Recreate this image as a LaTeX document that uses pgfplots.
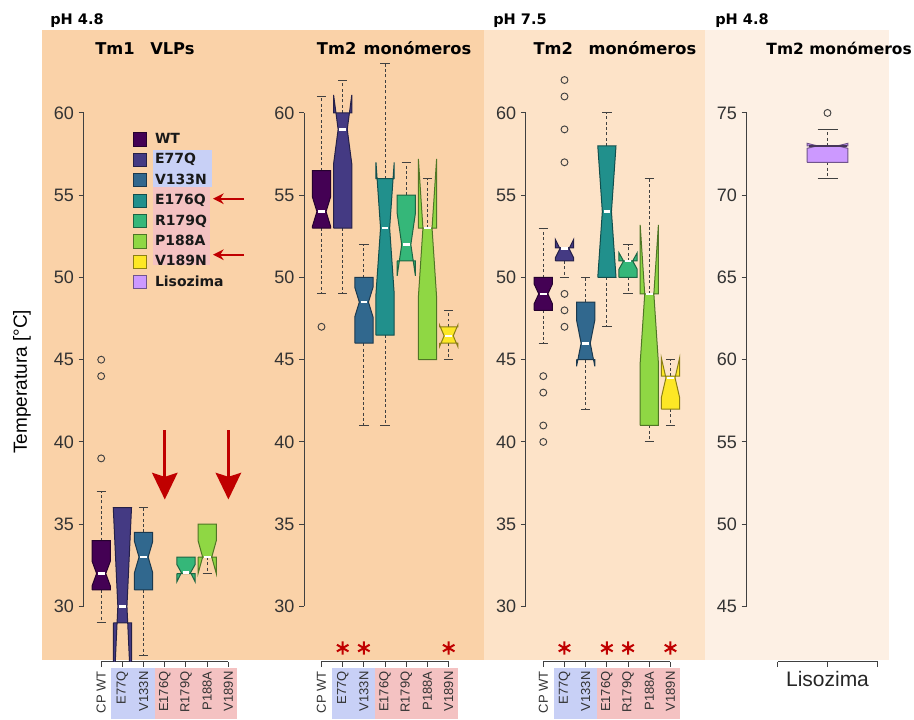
\documentclass[border=0pt]{standalone}
\usepackage{pgfplots}
\pgfplotsset{compat=1.18}
\usepackage{fontspec}
\setmainfont{Liberation Sans}
\newfontfamily\dv{DejaVu Sans}
\usetikzlibrary{arrows.meta}

\definecolor{cWT}{HTML}{440154}
\definecolor{cE77Q}{HTML}{443A83}
\definecolor{cV133N}{HTML}{31688E}
\definecolor{cE176Q}{HTML}{21908C}
\definecolor{cR179Q}{HTML}{35B779}
\definecolor{cP188A}{HTML}{8FD744}
\definecolor{cV189N}{HTML}{FDE725}
\definecolor{cLis}{HTML}{CC99FF}
\definecolor{bgA}{HTML}{FAD2A8}
\definecolor{bgB}{HTML}{FDE3C8}
\definecolor{bgC}{HTML}{FDF0E4}
\definecolor{hlB}{HTML}{C8D0F6}
\definecolor{hlP}{HTML}{F4C2C2}
\definecolor{arr}{HTML}{C00000}
\definecolor{axc}{HTML}{404040}

\pgfplotsset{
  whisk/.style={draw=axc, line width=0.75pt, dash pattern=on 2.2pt off 1.8pt, forget plot},
  capst/.style={draw=axc, line width=0.75pt, forget plot},
  boxs/.style={draw=#1!55!black, fill=#1, line width=0.75pt, forget plot},
  medw/.style={draw=white, line width=1.9pt, forget plot},
  medd/.style={draw=cLis!35!black, line width=1.5pt, forget plot},
  outl/.style={only marks, mark=o, mark size=2.6pt, mark options={draw=axc, line width=0.7pt}, forget plot},
  ast/.style={only marks, mark=asterisk, mark size=5pt, mark options={draw=arr, line width=1.5pt}, forget plot},
  panel/.style={
    scale only axis,
    x=15.9pt, y=12.3375pt,
    xmin=0.175, xmax=7.825, ymin=26.64, ymax=63.36,
    axis lines*=left, axis line style={draw=none},
    clip mode=individual,
    tick align=outside, major tick length=3.75pt,
    major tick style={draw=axc, line width=0.75pt},
    ytick={30,35,...,60},
    yticklabel style={font=\fontsize{13.5}{14}\selectfont, text=black!80},
    /pgf/number format/assume math mode=true,
    anchor=south west,
  },
  catlabels/.style={
    xtick={1,...,7},
    xticklabels={CP WT,E77Q,V133N,E176Q,R179Q,P188A,V189N},
    xticklabel style={font=\fontsize{9.75}{10}\selectfont, rotate=90, anchor=east, text=black!80},
  }
}

% notched box: x, whislo, q1, notch low, median, notch high, q3, whishi, colour
\newcommand\nbox[9]{%
  \pgfmathsetmacro\bxL{#1-\bw}\pgfmathsetmacro\bxR{#1+\bw}%
  \pgfmathsetmacro\ntL{#1-\nw}\pgfmathsetmacro\ntR{#1+\nw}%
  \pgfmathsetmacro\cpL{#1-\cw}\pgfmathsetmacro\cpR{#1+\cw}%
  \pgfmathsetmacro\mdL{#1-\mw}\pgfmathsetmacro\mdR{#1+\mw}%
  \edef\doit{%
    \noexpand\addplot[whisk] coordinates {(#1,#7) (#1,#8)};
    \noexpand\addplot[capst] coordinates {(\cpL,#8) (\cpR,#8)};
    \noexpand\addplot[whisk] coordinates {(#1,#3) (#1,#2)};
    \noexpand\addplot[capst] coordinates {(\cpL,#2) (\cpR,#2)};
    \noexpand\addplot[boxs=#9] coordinates {(\bxL,#3) (\bxL,#4) (\ntL,#5) (\bxL,#6) (\bxL,#7) (\bxR,#7) (\bxR,#6) (\ntR,#5) (\bxR,#4) (\bxR,#3) (\bxL,#3)};
    \noexpand\addplot[\medst] coordinates {(\mdL,#5) (\mdR,#5)};
  }\doit}

\begin{document}
\begin{tikzpicture}
\begin{scope}[x=0.75pt,y=-0.75pt]
\path[use as bounding box] (0,0) rectangle (914,719);
\fill[bgA] (42,30) rectangle (484,660);
\fill[bgB] (484,30) rectangle (705,660);
\fill[bgC] (705,30) rectangle (889,660);
% label highlights
\fill[hlB] (110.5,668.3) rectangle (154.5,719);
\fill[hlP] (154.5,668.3) rectangle (237,719);
\fill[hlB] (332,668.3) rectangle (375,719);
\fill[hlP] (375,668.3) rectangle (458,719);
\fill[hlB] (553.5,668.3) rectangle (596.5,719);
\fill[hlP] (596.5,668.3) rectangle (679.5,719);
% legend highlights
\fill[hlB] (153,150) rectangle (212,187);
\fill[hlP] (153,187) rectangle (210,265);
% headings
\tikzset{hd/.style={anchor=base west, inner sep=0pt, font=\dv\bfseries\fontsize{10.9}{12}\selectfont},
         tt/.style={anchor=base west, inner sep=0pt, font=\dv\bfseries\fontsize{12.2}{13}\selectfont}}
\node[hd] at (50,24) {pH 4.8};
\node[hd] at (493,24) {pH 7.5};
\node[hd] at (715,24) {pH 4.8};
\node[tt] at (95,54.5) {Tm1};
\node[tt] at (150,54.5) {VLPs};
\node[tt] at (316.7,54) {Tm2};
\node[tt] at (363.3,54) {monómeros};
\node[tt] at (533.3,54) {Tm2};
\node[tt] at (588.3,54) {monómeros};
\node[tt, anchor=base east, font=\dv\bfseries\fontsize{11.6}{13}\selectfont] at (912,54) {Tm2 monómeros};
\end{scope}

% ---------------- Panel 1: Tm1 VLPs pH 4.8
\begin{axis}[panel, catlabels, at={(62.775pt,-496.275pt)},
  ylabel={Temperatura [°C]},
  ylabel style={at={(axis description cs:-0.3804,0.4635)}, anchor=center, font=\fontsize{14.25}{15}\selectfont},
  legend style={at={(axis cs:2.486,58.82)}, anchor=north west, draw=none, fill=none,
    inner sep=0pt, outer sep=0pt, row sep=4.55pt, column sep=6pt,
    font=\dv\bfseries\fontsize{10.5}{11}\selectfont, text=black!90,
    nodes={inner sep=0pt, outer sep=0pt, anchor=west, text height=8pt, text depth=2pt}},
  legend cell align=left,
  legend image code/.code={\draw[#1, line width=0.75pt] (0pt,-5pt) rectangle (10pt,5pt);},
]
\draw[draw=axc, line width=0.75pt] (axis cs:0.175,30) -- (axis cs:0.175,60);
\draw[draw=axc, line width=0.75pt] (axis cs:1,26.64) -- (axis cs:7,26.64);
\def\bw{0.43}\def\nw{0.215}\def\cw{0.22}\def\mw{0.16}\def\medst{medw}
\nbox{1}{29}{31}{31.25}{32}{32.75}{34}{37}{cWT}
\nbox{2}{29}{29}{24}{30}{36}{36}{36}{cE77Q}
\nbox{3}{27}{31}{32.05}{33}{33.95}{34.5}{36}{cV133N}
\nbox{5}{32}{32}{31.5}{32.05}{32.55}{33}{33}{cR179Q}
\nbox{6}{32}{33}{32}{33}{34}{35}{35}{cP188A}
\addplot[outl] coordinates {(1,39) (1,44) (1,45)};
\draw[arr, line width=2.25pt, -{Stealth[length=20pt, width=19pt, inset=3pt]}] (axis cs:4,40.7) -- (axis cs:4,36.5);
\draw[arr, line width=2.25pt, -{Stealth[length=20pt, width=19pt, inset=3pt]}] (axis cs:7,40.7) -- (axis cs:7,36.5);
\addlegendimage{draw=cWT!55!black, fill=cWT}\addlegendentry{WT}
\addlegendimage{draw=cE77Q!55!black, fill=cE77Q}\addlegendentry{E77Q}
\addlegendimage{draw=cV133N!55!black, fill=cV133N}\addlegendentry{V133N}
\addlegendimage{draw=cE176Q!55!black, fill=cE176Q}\addlegendentry{E176Q}
\addlegendimage{draw=cR179Q!55!black, fill=cR179Q}\addlegendentry{R179Q}
\addlegendimage{draw=cP188A!55!black, fill=cP188A}\addlegendentry{P188A}
\addlegendimage{draw=cV189N!55!black, fill=cV189N}\addlegendentry{V189N}
\addlegendimage{draw=cLis!55!black, fill=cLis}\addlegendentry{Lisozima}
\end{axis}

% ---------------- Panel 2: Tm2 monomers pH 4.8
\begin{axis}[panel, catlabels, at={(228pt,-496.275pt)}]
\draw[draw=axc, line width=0.75pt] (axis cs:0.175,30) -- (axis cs:0.175,60);
\draw[draw=axc, line width=0.75pt] (axis cs:1,26.64) -- (axis cs:7,26.64);
\def\bw{0.43}\def\nw{0.215}\def\cw{0.22}\def\mw{0.16}\def\medst{medw}
\nbox{1}{49}{53}{53.1}{54}{54.9}{56.5}{61}{cWT}
\nbox{2}{49}{53}{56.9}{59}{61.1}{60}{62}{cE77Q}
\nbox{3}{41}{46}{47.6}{48.5}{49.4}{50}{52}{cV133N}
\nbox{4}{41}{46.5}{49}{53}{57}{56}{63}{cE176Q}
\nbox{5}{51}{51}{50.1}{52}{53.9}{55}{57}{cR179Q}
\nbox{6}{45}{45}{48.8}{53}{57.2}{53}{56}{cP188A}
\nbox{7}{45}{46}{45.8}{46.45}{47.1}{47}{48}{cV189N}
\addplot[outl] coordinates {(1,47)};
\addplot[ast] coordinates {(2,27.47) (3,27.47) (7,27.47)};
\end{axis}

% ---------------- Panel 3: Tm2 monomers pH 7.5
\begin{axis}[panel, catlabels, at={(394.35pt,-496.275pt)}]
\draw[draw=axc, line width=0.75pt] (axis cs:0.175,30) -- (axis cs:0.175,60);
\draw[draw=axc, line width=0.75pt] (axis cs:1,26.64) -- (axis cs:7,26.64);
\def\bw{0.43}\def\nw{0.215}\def\cw{0.22}\def\mw{0.16}\def\medst{medw}
\nbox{1}{46}{48}{48.4}{49}{49.6}{50}{53}{cWT}
\nbox{2}{50}{51}{51.2}{51.75}{52.3}{51.8}{51.8}{cE77Q}
\nbox{3}{42}{45}{44.6}{46}{47.4}{48.5}{50}{cV133N}
\nbox{4}{47}{50}{50}{54}{58}{58}{60}{cE176Q}
\nbox{5}{49}{50}{50.5}{51}{51.5}{51}{52}{cR179Q}
\nbox{6}{40}{41}{44.8}{49}{53.2}{49}{56}{cP188A}
\nbox{7}{41}{42}{42.7}{43.9}{45.1}{44}{45}{cV189N}
\addplot[outl] coordinates {(1,40) (1,41) (1,43) (1,44)};
\addplot[outl] coordinates {(2,47) (2,48) (2,49) (2,57) (2,59) (2,61) (2,62)};
\addplot[ast] coordinates {(2,27.47) (4,27.47) (5,27.47) (7,27.47)};
\end{axis}

% ---------------- Panel 4: Lisozima
\begin{axis}[panel, at={(559.875pt,-496.275pt)},
  x=75pt, xmin=0.19, xmax=1.6, ymin=41.64, ymax=78.36,
  ytick={45,50,...,75}, xtick={0.5,1,1.5}, xticklabels={,Lisozima,},
  xticklabel style={font=\fontsize{15.75}{16}\selectfont, anchor=north, text=black!85},
]
\draw[draw=axc, line width=0.75pt] (axis cs:0.19,45) -- (axis cs:0.19,75);
\draw[draw=axc, line width=0.75pt] (axis cs:0.5,41.64) -- (axis cs:1.5,41.64);
\def\bw{0.203}\def\nw{0.1015}\def\cw{0.1}\def\mw{0.19}\def\medst{medd}
\nbox{1}{71}{72}{72.85}{73}{73.15}{73}{74}{cLis}
\addplot[outl] coordinates {(1,75)};
\end{axis}

\begin{scope}[x=0.75pt,y=-0.75pt]
\draw[arr, line width=1.5pt, -{Stealth[length=8pt, width=8pt]}] (244,198.7) -- (213,198.7);
\draw[arr, line width=1.5pt, -{Stealth[length=8pt, width=8pt]}] (244,254.7) -- (213,254.7);
\end{scope}
\end{tikzpicture}
\end{document}
